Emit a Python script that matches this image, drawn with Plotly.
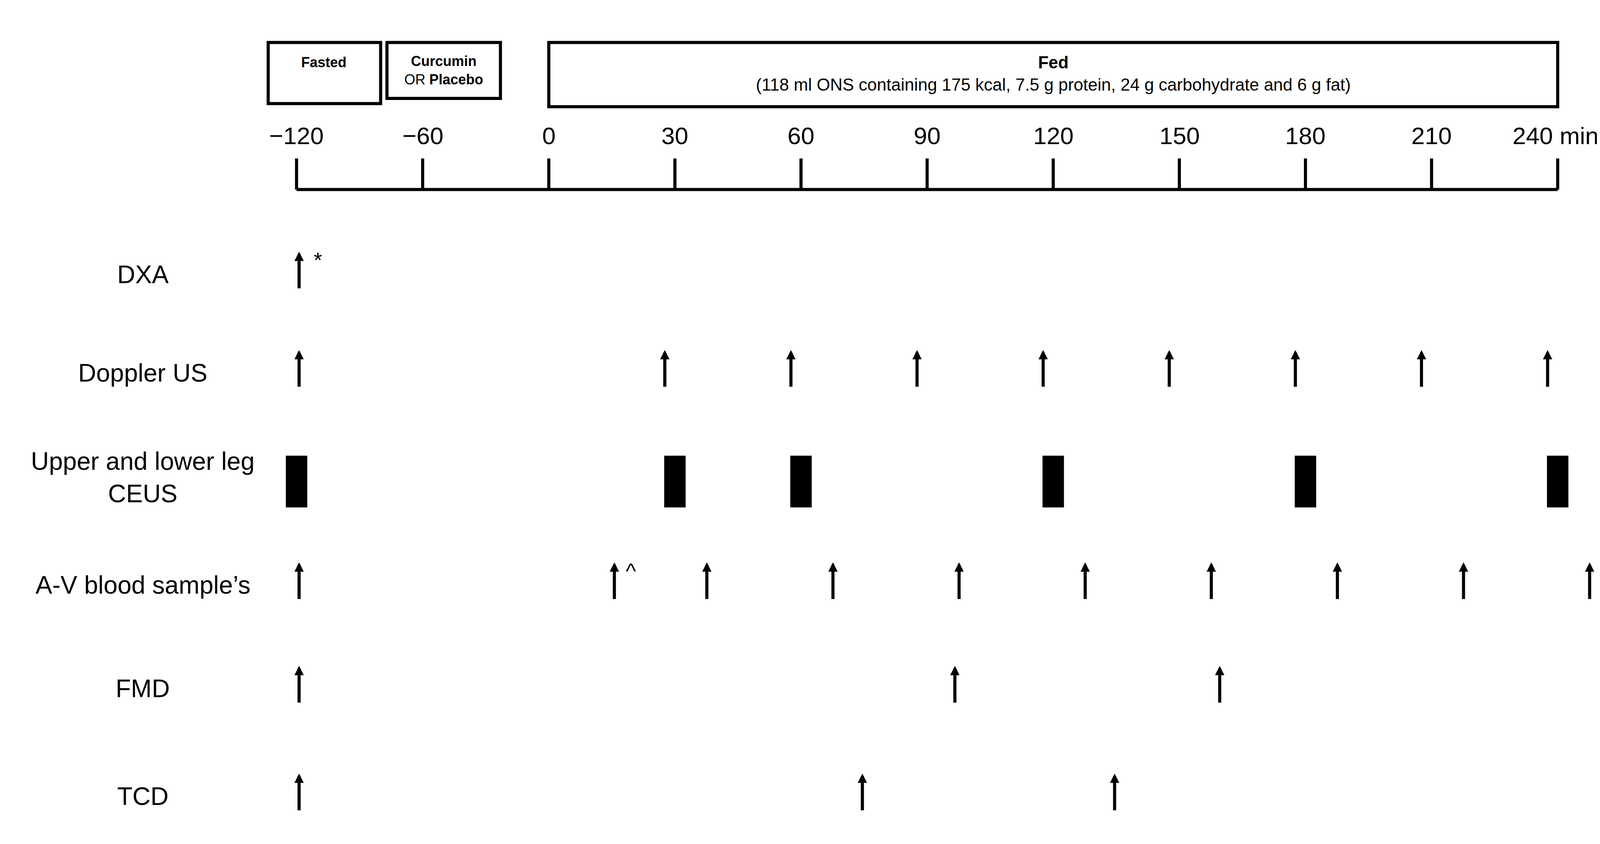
import plotly.graph_objects as go

# timeline ticks (minutes) - pre-zero part is compressed in the drawing
tick_minutes = [-120, -60, 0, 30, 60, 90, 120, 150, 180, 210, 240]
tick_labels = ["\u2212120", "\u221260", "0", "30", "60", "90", "120", "150", "180", "210", "240 min"]

rows = ["DXA", "Doppler US", "Upper and lower leg<br>CEUS", "A-V blood sample\u2019s", "FMD", "TCD"]
dxa_times = [-120]
doppler_times = [-120, 27, 57, 87, 117, 147, 177, 207, 237]
ceus_times = [-120, 30, 60, 120, 180, 240]
av_times = [-120, 15, 37, 67, 97, 127, 157, 187, 217, 247]
fmd_times = [-120, 96, 159]
tcd_times = [-120, 74, 134]


def slot(t):
    # -120..0 spaced per 60 min, 0..240 per 30 min
    return t / 60 if t < 0 else t / 30


S = 2.65  # reference drawn at ~1560 px wide
F = "Liberation Sans"
row_y = [262, 357, 458, 562, 662, 766]

fig = go.Figure()
fig.add_trace(go.Scatter(x=[0], y=[0], mode="markers", marker=dict(opacity=0), showlegend=False, hoverinfo="skip"))

shapes = []
annotations = []
lw = 3 * S

# axis line and ticks
shapes.append(dict(type="line", xref="x", yref="y", x0=slot(-120), x1=slot(240), y0=180, y1=180,
                   line=dict(color="black", width=lw)))
for t, lab in zip(tick_minutes, tick_labels):
    shapes.append(dict(type="line", xref="x", yref="y", x0=slot(t), x1=slot(t), y0=150, y1=180,
                       line=dict(color="black", width=lw)))
    last = lab.endswith("min")
    annotations.append(dict(x=slot(t), y=128, xref="x", yref="y", text=lab, showarrow=False,
                            xanchor="left" if last else "center",
                            xshift=-118 if last else 0,
                            font=dict(family=F, size=62, color="black")))

# top boxes
boxes = [(-133.5, -80, 38, 97), (-77, -23, 38, 92), (0, 240, 38, 100)]
for x0, x1, y0, y1 in boxes:
    shapes.append(dict(type="rect", xref="x", yref="y", x0=slot(x0), x1=slot(x1), y0=y0, y1=y1,
                       line=dict(color="black", width=lw)))
annotations.append(dict(x=slot(-107), y=57, xref="x", yref="y", text="<b>Fasted</b>", showarrow=False,
                        font=dict(family=F, size=36, color="black")))
annotations.append(dict(x=slot(-50), y=65, xref="x", yref="y", text="<b>Curcumin</b><br>OR <b>Placebo</b>",
                        showarrow=False, font=dict(family=F, size=36, color="black")))
annotations.append(dict(x=slot(120), y=68, xref="x", yref="y",
                        text="<b>Fed</b><br>(118 ml ONS containing 175 kcal, 7.5 g protein, 24 g carbohydrate and 6 g fat)",
                        showarrow=False, font=dict(family=F, size=44, color="black")))

# row labels
label_x = (135 - 527) / 121.8
for name, y in zip(rows, row_y):
    annotations.append(dict(x=label_x, y=y, xref="x", yref="y", text=name, showarrow=False,
                            font=dict(family=F, size=64, color="black")))


def arrows(times, y):
    for t in times:
        annotations.append(dict(x=slot(t) + 0.02, y=y - 22, ax=slot(t) + 0.02, ay=y + 14,
                                xref="x", yref="y", axref="x", ayref="y", text="", showarrow=True,
                                arrowhead=2, arrowsize=0.6, arrowwidth=lw, arrowcolor="black"))


arrows(dxa_times, row_y[0])
arrows(doppler_times, row_y[1])
arrows(av_times, row_y[3])
arrows(fmd_times, row_y[4])
arrows(tcd_times, row_y[5])

for t in ceus_times:
    shapes.append(dict(type="rect", xref="x", yref="y", x0=slot(t) - 0.085, x1=slot(t) + 0.085,
                       y0=437, y1=487, fillcolor="black", line=dict(width=0)))

annotations.append(dict(x=slot(-120) + 0.17, y=248, xref="x", yref="y", text="*", showarrow=False,
                        font=dict(family=F, size=56, color="black")))
annotations.append(dict(x=slot(15) + 0.15, y=548, xref="x", yref="y", text="^", showarrow=False,
                        font=dict(family=F, size=56, color="black")))

fig.update_layout(
    width=4135, height=2161, margin=dict(l=0, r=0, t=0, b=0),
    plot_bgcolor="white", paper_bgcolor="white",
    xaxis=dict(range=[(0 - 527) / 121.8, (1560 - 527) / 121.8], visible=False),
    yaxis=dict(range=[815, 0], visible=False),
    shapes=shapes, annotations=annotations,
)
fig.write_html("out.html")
